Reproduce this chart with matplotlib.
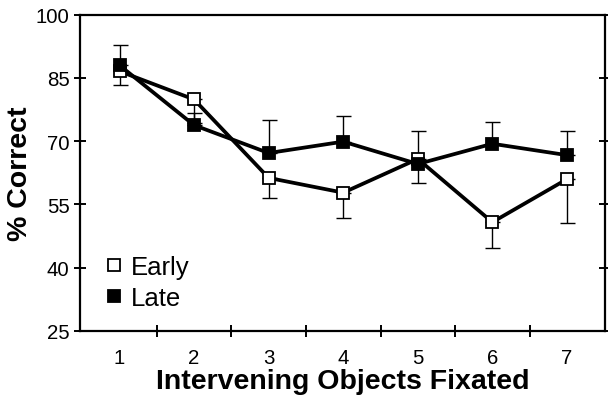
import matplotlib
matplotlib.use("Agg")
import matplotlib.pyplot as plt
from matplotlib.lines import Line2D

plt.rcParams['font.family'] = ['Liberation Sans', 'DejaVu Sans']

x = [1, 2, 3, 4, 5, 6, 7]
early = [86.6, 79.9, 61.3, 57.8, 65.8, 50.8, 61.0]
early_err_low = [3.3, 5.5, 4.8, 6.1, 5.6, 6.2, 10.3]
late = [88.0, 73.8, 67.2, 69.9, 64.6, 69.4, 66.7]
late_err_high = [4.9, 3.0, 7.9, 6.0, 7.9, 5.2, 5.8]
yticks = [25, 40, 55, 70, 85, 100]

fig = plt.figure(figsize=(6.08, 4.06), dpi=100)
ax = fig.add_axes([0.1316, 0.1823, 0.8634, 0.779])

ax.errorbar(x, early, yerr=[early_err_low, [0]*7], fmt='none', ecolor='black',
            elinewidth=1.0, capsize=5.4, capthick=1.0, zorder=2)
ax.errorbar(x, late, yerr=[[0]*7, late_err_high], fmt='none', ecolor='black',
            elinewidth=1.0, capsize=5.4, capthick=1.0, zorder=2)
ax.plot(x, early, color='black', lw=2.7, marker='s', ms=8.8, mfc='white',
        mec='black', mew=1.3, zorder=3)
ax.plot(x, late, color='black', lw=2.7, marker='s', ms=8.8, mfc='black',
        mec='black', mew=1.3, zorder=4)

ax.set_xlim(0.47, 7.51)
ax.set_ylim(25, 100)
ax.set_yticks(yticks)
ax.set_yticklabels([str(v) for v in yticks], fontsize=14.7)
ax.set_xticks([1.5, 2.5, 3.5, 4.5, 5.5, 6.5])
ax.set_xticklabels([])
ax.set_xticks(x, minor=True)
ax.set_xticklabels([str(v) for v in x], minor=True, fontsize=14.7)
ax.tick_params(axis='x', which='minor', length=0, pad=12)
ax.tick_params(axis='x', which='major', direction='inout', length=9, width=1.4)
ax.tick_params(axis='y', which='major', direction='inout', length=9, width=1.4,
               right=True, pad=3)
for s in ax.spines.values():
    s.set_linewidth(1.6)

ax.set_xlabel('Intervening Objects Fixated', fontsize=20.5, fontweight='bold', labelpad=1)
ax.set_ylabel('% Correct', fontsize=20.5, fontweight='bold', labelpad=2)

handles = [Line2D([], [], ls='none', marker='s', ms=8.5, mfc='white', mec='black', mew=1.3),
           Line2D([], [], ls='none', marker='s', ms=8.5, mfc='black', mec='black', mew=1.3)]
ax.legend(handles, ['Early', 'Late'], loc='upper left', bbox_to_anchor=(0.047, 0.24),
          frameon=False, fontsize=18.5, handlelength=0.7, handletextpad=0.3,
          labelspacing=0.25, borderaxespad=0.0, borderpad=0.0)

fig.savefig('out.png', dpi=100)
